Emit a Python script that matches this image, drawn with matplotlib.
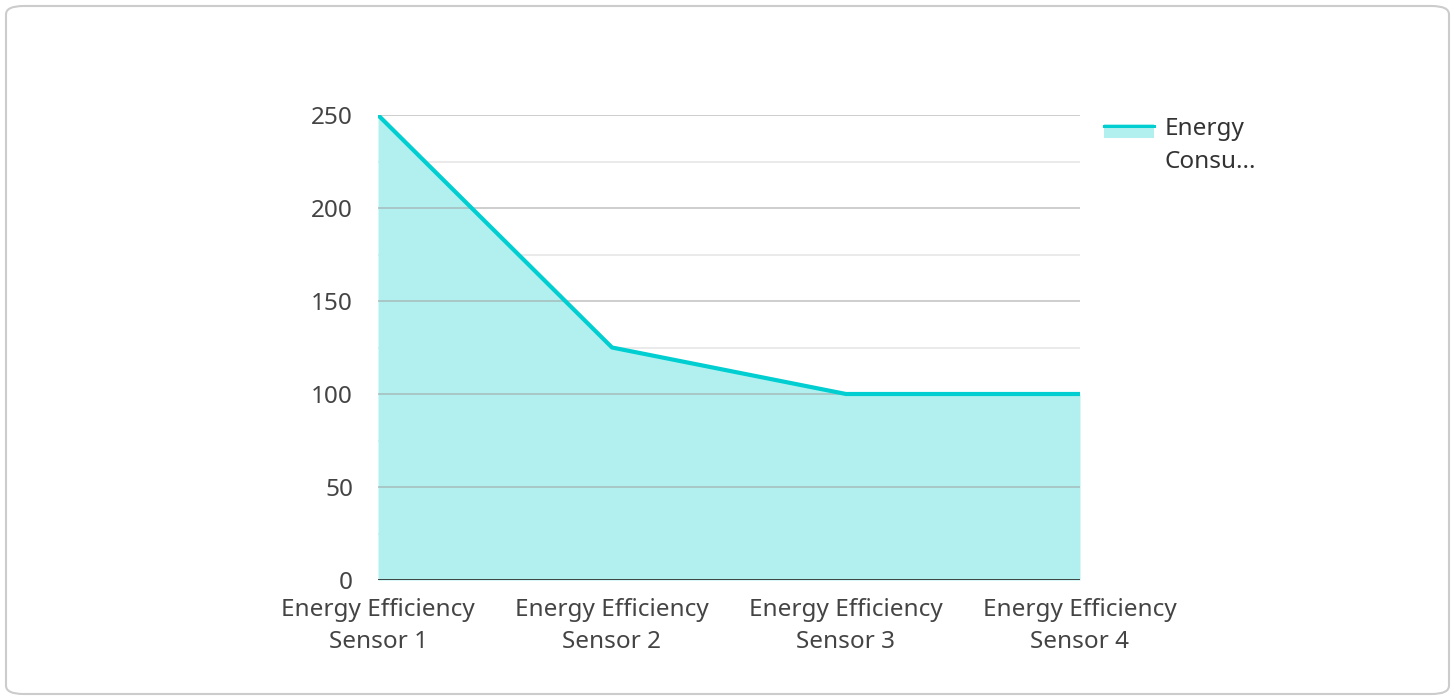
import matplotlib.pyplot as plt
from matplotlib.patches import FancyBboxPatch, Patch, Rectangle
from matplotlib.lines import Line2D
from matplotlib.legend_handler import HandlerBase

plt.rcParams['font.family'] = ['Noto Sans', 'DejaVu Sans']

sensors = ['Energy Efficiency\nSensor 1', 'Energy Efficiency\nSensor 2',
           'Energy Efficiency\nSensor 3', 'Energy Efficiency\nSensor 4']
consumption = [250, 125, 100, 100]
series_label = 'Energy\nConsu...'
yticks = [0, 50, 100, 150, 200, 250]

line_color = '#00CED1'
fill_color = '#B2F0F0'
fs = 17.5


class AreaHandler(HandlerBase):
    """Legend key: filled box with the line along its top edge,
    aligned with the first label line."""
    def create_artists(self, legend, orig_handle, xdescent, ydescent,
                       width, height, fontsize, trans):
        shift = 10.5  # move up to the first text line
        box_h = 10
        top = height / 2 + box_h / 2 + shift
        rect = Rectangle((-xdescent, top - box_h - ydescent), width, box_h,
                         facecolor=fill_color, edgecolor='none', transform=trans)
        ln = Line2D([-xdescent, width - xdescent], [top - ydescent - 1.1] * 2,
                    color=line_color, linewidth=2.2, transform=trans)
        return [rect, ln]


fig = plt.figure(figsize=(14.55, 7), dpi=100)

# card border
card = FancyBboxPatch((6 / 1455, 6 / 700), 1443 / 1455, 688 / 700,
                      boxstyle='round,pad=0,rounding_size=0.012',
                      transform=fig.transFigure, facecolor='white',
                      edgecolor='#CCCCCC', linewidth=1.5, zorder=-10)
fig.patches.append(card)

# axes: x 378..1080, y 115..580 (pixels from top)
ax = fig.add_axes([378 / 1455, 1 - 580 / 700, 702 / 1455, 465 / 700])
ax.set_facecolor('none')

x = list(range(len(sensors)))
ax.fill_between(x, consumption, 0, color=fill_color, linewidth=0, zorder=1)
ax.plot(x, consumption, color=line_color, linewidth=3, zorder=3,
        solid_capstyle='butt')

ax.set_xlim(0, len(sensors) - 1)
ax.set_ylim(0, 250)

# grid lines, stronger every 50
for v in range(25, 251, 25):
    if v % 50 == 0:
        ax.axhline(v, color='#A0A0A0', linewidth=1.2, alpha=0.6, zorder=2)
    else:
        ax.axhline(v, color='#E6E6E6', linewidth=1.2, zorder=0.5)
ax.axhline(0, color='#333333', linewidth=2, zorder=4)

for s in ax.spines.values():
    s.set_visible(False)

ax.set_yticks(yticks)
ax.set_yticklabels([str(t) for t in yticks])
ax.set_xticks(x)
ax.set_xticklabels(sensors, linespacing=1.42)
ax.tick_params(axis='both', length=0, labelsize=fs, colors='#444444')
ax.tick_params(axis='y', pad=18)
ax.tick_params(axis='x', pad=13)

handle = Patch(facecolor=fill_color)
leg = fig.legend([handle], [series_label], loc='upper left',
                 bbox_to_anchor=(1082 / 1455, 1 - 95 / 700),
                 frameon=False, fontsize=fs, handlelength=2.06,
                 handleheight=0.7, handletextpad=0.42, labelcolor='#333333',
                 handler_map={Patch: AreaHandler()})
for t in leg.get_texts():
    t.set_linespacing(1.5)

fig.savefig('out.png', dpi=100)
